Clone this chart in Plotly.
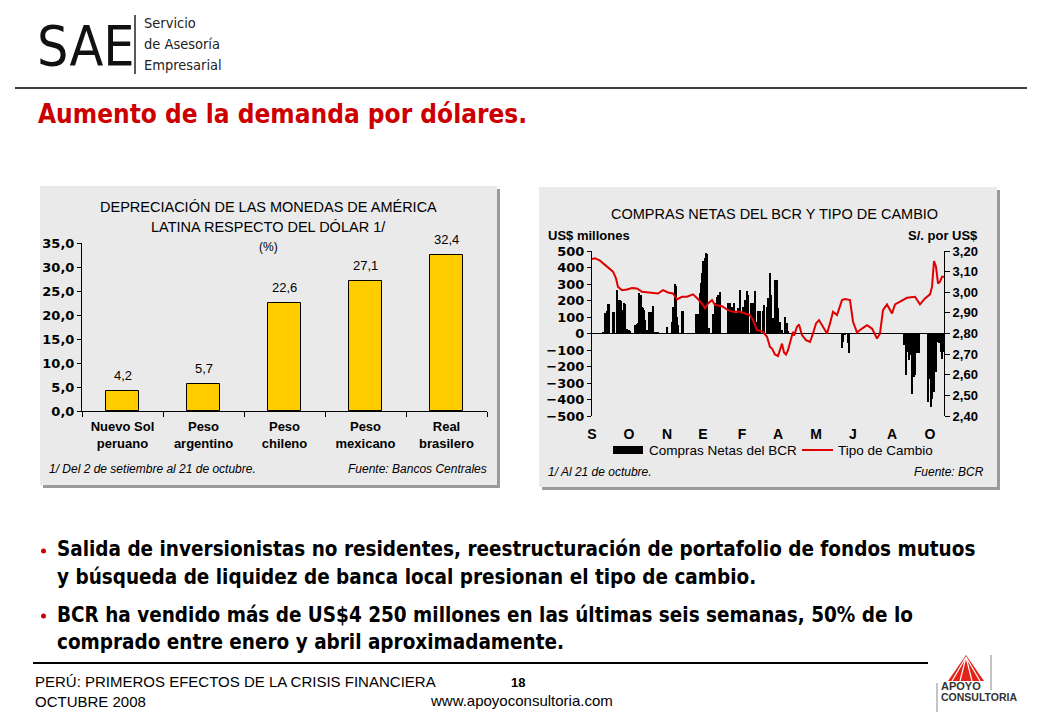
import plotly.graph_objects as go

# The page body keeps the browser's default 8px margin, so the figure is sized
# to fit exactly inside the 1040x720 window and page coordinates are shifted.
OFF = 8
W, H = 1040 - 2 * OFF, 720 - 2 * OFF


def px(x):
    return (x - OFF) / W


def py(y):
    return 1 - (y - OFF) / H


# ---------------- data: left chart ----------------
currencies = ["Nuevo Sol<br>peruano", "Peso<br>argentino", "Peso<br>chileno",
              "Peso<br>mexicano", "Real<br>brasilero"]
depreciation = [4.2, 5.7, 22.6, 27.1, 32.4]

# ---------------- data: right chart ----------------
# x = trading-day position along the Sep-2007 .. 21-Oct-2008 axis
bar_pos = [11, 13, 14, 15, 16, 17, 21, 22, 25, 26, 28, 29, 31, 32, 33, 34, 35, 36, 37, 38,
           43, 45, 46, 47, 49, 50, 51, 52, 53, 55, 56, 57, 59, 61, 63, 65, 66, 75, 80, 81,
           83, 84, 85, 86, 90, 91, 104, 106, 108, 109, 110, 111, 113, 114, 115, 117, 121, 123,
           125, 126, 128, 136, 138, 140, 142, 144, 146, 148, 150, 151, 153, 155, 156, 159, 160,
           161, 163, 165, 166, 168, 171, 172, 175, 176, 178, 179, 181, 183, 185, 186, 188, 190,
           193, 195, 196,
           250, 251, 253, 256, 257,
           312, 314, 316, 317, 319, 320, 322, 323, 325, 327,
           336, 337, 339, 340, 342, 344, 345, 347, 349, 350, 351]
bar_val = [10, 122, 125, 139, 178, 178, 133, 133, 261, 204, 204, 194, 143, 184, 180, 30, 25, 20, 20, 15,
           51, 57, 61, 245, 235, 163, 153, 143, 82, 20, 10, 128, 133, 167, 10, 8, 8, 37, 71, 163,
           302, 290, 102, 51, 137, 137, 118, 118, 245, 306, 367, 439, 459, 486, 480, 31, 118, 184,
           220, 235, 251, 184, 184, 163, 184, 122, 153, 265, 122, 163, 204, 255, 235, 184, 184,
           184, 255, 71, 139, 139, 139, 173, 163, 214, 367, 232, 91, 323, 323, 156, 71, 20,
           101, 61, 14,
           -87, -50, -10, -60, -121,
           -71, -253, -111, -162, -130, -364, -263, -253, -121, -121,
           -414, -273, -444, -394, -353, -232, -50, -55, -111, -152, -111]

fx_pos = [0, 3, 8, 13, 18, 21, 24, 26, 30, 35, 40, 45, 50, 55, 61, 66, 71, 76, 81, 85,
          90, 95, 101, 106, 111, 113, 116, 120, 123, 130, 136, 141, 148, 153, 158, 161, 165, 168, 171, 175,
          178, 180, 183, 186, 190, 192, 194, 196, 199, 201, 202, 205, 207, 210, 214, 218, 221, 224, 227, 231,
          235, 238, 241, 245, 250, 253, 258, 261, 265, 270, 275, 280, 285, 288, 291, 295, 300, 303, 308, 315,
          323, 325, 328, 333, 338, 340, 342, 344, 346, 348, 350, 352]
fx_val = [3.161, 3.165, 3.153, 3.132, 3.112, 3.100, 3.067, 3.026, 3.010, 3.013,
          3.020, 3.018, 3.002, 2.999, 2.994, 2.994, 3.010, 2.999, 2.994, 2.965,
          2.978, 2.978, 2.990, 2.967, 2.938, 2.922, 2.946, 2.962, 2.938, 2.932,
          2.913, 2.905, 2.905, 2.897, 2.889, 2.865, 2.816, 2.813, 2.808, 2.784,
          2.735, 2.727, 2.698, 2.691, 2.751, 2.708, 2.698, 2.719, 2.768, 2.808,
          2.790, 2.833, 2.844, 2.792, 2.768, 2.759, 2.800, 2.849, 2.865, 2.833,
          2.800, 2.849, 2.905, 2.889, 2.962, 2.967, 2.962, 2.857, 2.805, 2.824,
          2.840, 2.824, 2.776, 2.800, 2.913, 2.941, 2.897, 2.941, 2.954, 2.973,
          2.978, 2.962, 2.941, 2.970, 2.990, 3.026, 3.151, 3.124, 3.043, 3.051,
          3.075, 3.075]

month_pos = [0, 37, 75, 111, 150, 186, 224, 261, 300, 338]
month_labels = ["S", "O", "N", "E", "F", "A", "M", "J", "A", "O"]

# ---------------- fonts ----------------
ARIAL = "Liberation Sans, Arial, sans-serif"
COND = "DejaVu Sans Condensed, DejaVu Sans, sans-serif"
DEJAVU = "DejaVu Sans, sans-serif"
RED = "#CC0000"

fig = go.Figure()

fig.add_trace(go.Bar(
    x=currencies, y=depreciation, xaxis="x", yaxis="y",
    width=0.41, marker=dict(color="#FFCC00", line=dict(color="black", width=1)),
    showlegend=False, hoverinfo="skip"))

fig.add_trace(go.Bar(
    x=bar_pos, y=bar_val, xaxis="x2", yaxis="y2", width=1.4,
    marker=dict(color="black", line=dict(width=0)),
    name="Compras Netas del BCR", showlegend=False))

fig.add_trace(go.Scatter(
    x=fx_pos, y=fx_val, xaxis="x2", yaxis="y3", mode="lines",
    line=dict(color="#E00000", width=2), name="Tipo de Cambio", showlegend=False))

axis_common = dict(showgrid=False, zeroline=False, showline=True, linecolor="black",
                   linewidth=1, ticks="outside", tickcolor="black", automargin=False)

fig.update_layout(
    width=W, height=H, margin=dict(l=0, r=0, t=0, b=0, pad=0, autoexpand=False),
    paper_bgcolor="white", plot_bgcolor="rgba(0,0,0,0)",
    separators=",.", bargap=0, showlegend=False,
    xaxis=dict(domain=[px(82), px(487)], anchor="y", type="category",
               tickson="boundaries", ticklen=5, ticklabelstandoff=3,
               tickfont=dict(family=ARIAL, size=13, color="black", weight="bold"),
               **axis_common),
    yaxis=dict(domain=[py(411), py(243)], anchor="x", range=[0, 35], dtick=5,
               tickformat=".1f", ticklen=4,
               tickfont=dict(family=DEJAVU, size=13, color="black", weight="bold"),
               **axis_common),
    xaxis2=dict(domain=[px(592), px(944)], anchor="y2", range=[0, 352],
                showgrid=False, zeroline=False, showline=False, ticks="",
                tickmode="array", tickvals=month_pos, ticktext=month_labels,
                ticklabelstandoff=8, automargin=False,
                tickfont=dict(family=ARIAL, size=14, color="black", weight="bold")),
    yaxis2=dict(domain=[py(416), py(251)], anchor="x2", range=[-500, 500], dtick=100,
                ticklen=4, showgrid=False, showline=True, linecolor="black",
                ticks="outside", tickcolor="black", automargin=False,
                zeroline=True, zerolinecolor="black", zerolinewidth=1,
                tickfont=dict(family=DEJAVU, size=13, color="black", weight="bold")),
    yaxis3=dict(overlaying="y2", anchor="x2", side="right", range=[2.4, 3.2], dtick=0.1,
                tickformat=".2f", ticklen=5,
                tickfont=dict(family=ARIAL, size=13, color="black", weight="bold"),
                **axis_common),
)

shapes = []


def rect(x0, y0, x1, y1, fill):
    shapes.append(dict(type="rect", xref="paper", yref="paper",
                       x0=px(x0), x1=px(x1), y0=py(y1), y1=py(y0),
                       fillcolor=fill, line=dict(width=0), layer="below"))


def hline(x0, x1, y, color="black", width=1):
    shapes.append(dict(type="line", xref="paper", yref="paper",
                       x0=px(x0), x1=px(x1), y0=py(y), y1=py(y),
                       line=dict(color=color, width=width), layer="below"))


def vline(x, y0, y1, color="black", width=1):
    shapes.append(dict(type="line", xref="paper", yref="paper",
                       x0=px(x), x1=px(x), y0=py(y0), y1=py(y1),
                       line=dict(color=color, width=width), layer="below"))


# chart panels with shadows
rect(43, 189, 500, 488, "#9A9A9A")
rect(40, 186, 497, 485, "#EAEAEA")
rect(542, 190, 1000, 490, "#9A9A9A")
rect(539, 187, 997, 487, "#EAEAEA")

# header / footer rules
hline(15, 1027, 88, width=1.5)
hline(33, 928, 663, width=2)
vline(135, 15, 74, color="#222", width=1.5)

# custom legend of the right chart
rect(613, 446, 643, 454, "black")
hline(802, 833, 450, color="#E00000", width=2)

# bullets
for yb in (551, 616):
    shapes.append(dict(type="circle", xref="paper", yref="paper",
                       x0=px(41), x1=px(46), y0=py(yb + 2.5), y1=py(yb - 2.5),
                       fillcolor=RED, line=dict(width=0)))

# APOYO logo mark
shapes.append(dict(type="path", xref="paper", yref="paper",
                   path=f"M {px(966)} {py(655)} L {px(984)} {py(681)} L {px(948)} {py(681)} Z",
                   fillcolor="#E2231A", line=dict(width=0)))
for xe in (952, 960, 972, 980):
    shapes.append(dict(type="line", xref="paper", yref="paper",
                       x0=px(966), y0=py(657), x1=px(xe), y1=py(681),
                       line=dict(color="white", width=1.2)))
vline(937, 683, 712, color="#888", width=1)
vline(991, 655, 690, color="#888", width=1)

fig.update_layout(shapes=shapes)

annotations = []


def text(x, y, s, size, family=ARIAL, color="black", xanchor="left", weight="normal",
         style="normal"):
    annotations.append(dict(x=px(x), y=py(y), xref="paper", yref="paper", text=s,
                            showarrow=False, xanchor=xanchor, yanchor="middle",
                            font=dict(family=family, size=size, color=color,
                                      weight=weight, style=style)))


# value labels of the left chart, placed through its own axes
for cat, val in zip(currencies, depreciation):
    annotations.append(dict(x=cat, y=val, xref="x", yref="y",
                            text=f"{val:.1f}".replace(".", ","), showarrow=False,
                            xanchor="center", yanchor="bottom", yshift=6,
                            font=dict(family=ARIAL, size=13, color="black")))

# logo
text(35, 46, "SAE", 55, family=COND, color="#111")
text(142, 23, "Servicio", 14.5, family=COND, color="#222")
text(142, 44, "de Asesoría", 14.5, family=COND, color="#222")
text(142, 65, "Empresarial", 14.5, family=COND, color="#222")

# slide title
text(36, 114, "Aumento de la demanda por dólares.", 26, family=COND, color=RED,
     weight="bold")

# left chart texts
text(268, 207, "DEPRECIACIÓN DE LAS MONEDAS DE AMÉRICA", 14.5, xanchor="center")
text(268, 227, "LATINA RESPECTO DEL DÓLAR 1/", 14.5, xanchor="center")
text(268, 247, "(%)", 12, xanchor="center")
text(47, 469, "1/ Del 2 de setiembre al 21 de octubre.", 12, style="italic")
text(489, 469, "Fuente: Bancos Centrales", 12, xanchor="right", style="italic")

# right chart texts
text(774, 214, "COMPRAS NETAS DEL BCR Y TIPO DE CAMBIO", 14.5, xanchor="center")
text(546, 235, "US$ millones", 13, weight="bold")
text(980, 235, "S/. por US$", 13, xanchor="right", weight="bold")
text(647, 450, "Compras Netas del BCR", 13.5)
text(836, 450, "Tipo de Cambio", 13.5)
text(546, 472, "1/ Al 21 de octubre.", 12, style="italic")
text(986, 472, "Fuente: BCR", 12, xanchor="right", style="italic")

# bullets
BS = 20.5
text(55, 549, "Salida de inversionistas no residentes, reestructuración de portafolio de fondos mutuos",
     BS, family=COND, weight="bold")
text(55, 577, "y búsqueda de liquidez de banca local presionan el tipo de cambio.",
     BS, family=COND, weight="bold")
text(55, 615, "BCR ha vendido más de US$4 250 millones en las últimas seis semanas, 50% de lo",
     BS, family=COND, weight="bold")
text(55, 642, "comprado entre enero y abril aproximadamente.",
     BS, family=COND, weight="bold")

# footer
text(33, 681, "PERÚ: PRIMEROS EFECTOS DE LA CRISIS FINANCIERA", 15)
text(33, 701, "OCTUBRE 2008", 15)
text(518, 682, "18", 13, xanchor="center", weight="bold")
text(521, 700, "www.apoyoconsultoria.com", 15, xanchor="center")
text(939, 686, "APOYO", 11, color="#333", weight="bold")
text(939, 697, "CONSULTORIA", 10.5, color="#333", weight="bold")

fig.update_layout(annotations=annotations)

fig.write_html("out.html")
